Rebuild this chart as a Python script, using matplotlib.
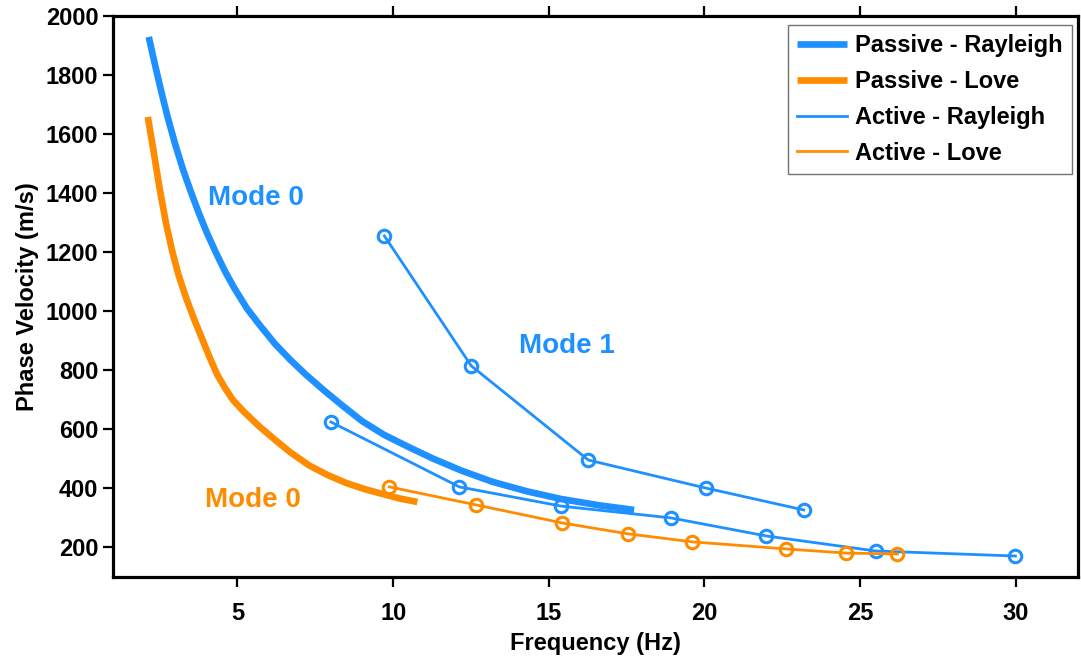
import matplotlib
matplotlib.use("Agg")
import matplotlib.pyplot as plt
from matplotlib.lines import Line2D

plt.rcParams["font.family"] = ["Liberation Sans", "DejaVu Sans"]
plt.rcParams["font.weight"] = "bold"

BLUE = "#1E90FF"
ORANGE = "#FF8C00"

# Passive (continuous) dispersion curves
passive_rayleigh_f = [2.15, 2.35, 2.55, 2.75, 3.0, 3.25, 3.5, 3.75, 4.0, 4.3,
                      4.6, 4.9, 5.3, 5.7, 6.2, 6.7, 7.2, 7.8, 8.4, 9.0,
                      9.7, 10.5, 11.3, 12.2, 13.2, 14.3, 15.4, 16.6, 17.74]
passive_rayleigh_v = [1929, 1835, 1745, 1660, 1565, 1480, 1405, 1335, 1270, 1200,
                      1135, 1078, 1010, 955, 890, 835, 785, 730, 678, 628,
                      582, 540, 500, 460, 422, 390, 364, 343, 327]

passive_love_f = [2.12, 2.3, 2.5, 2.7, 2.9, 3.1, 3.35, 3.6, 3.85, 4.1,
                  4.35, 4.6, 4.85, 5.2, 5.7, 6.2, 6.7, 7.3, 7.9, 8.5,
                  9.1, 9.7, 10.2, 10.78]
passive_love_v = [1658, 1545, 1415, 1300, 1205, 1125, 1045, 975, 910, 845,
                  785, 740, 700, 660, 610, 565, 522, 478, 445, 418,
                  397, 380, 366, 354]

# Active (picked) dispersion points
active_rayleigh_m0_f = [8.0, 12.13, 15.40, 18.93, 21.98, 25.50, 29.99]
active_rayleigh_m0_v = [625, 405, 340, 300, 239, 188, 171]

active_rayleigh_m1_f = [9.72, 12.51, 16.27, 20.05, 23.19]
active_rayleigh_m1_v = [1255, 815, 496, 401, 327]

active_love_f = [9.88, 12.67, 15.43, 17.55, 19.60, 22.62, 24.54, 26.20]
active_love_v = [405, 344, 283, 246, 219, 195, 181, 178]

x_ticks = [5, 10, 15, 20, 25, 30]
y_ticks = list(range(200, 2001, 200))

fig = plt.figure(figsize=(10.81, 6.60), dpi=100)
ax = fig.add_axes([0.1045, 0.1258, 0.8927, 0.8500])

thick = 4.8
thin = 2.0
mk = dict(marker="o", markersize=9, markerfacecolor="none", markeredgewidth=2.2)

ax.plot(passive_rayleigh_f, passive_rayleigh_v, color=BLUE, lw=thick,
        solid_capstyle="butt", solid_joinstyle="round")
ax.plot(passive_love_f, passive_love_v, color=ORANGE, lw=thick,
        solid_capstyle="butt", solid_joinstyle="round")

ax.plot(active_rayleigh_m0_f, active_rayleigh_m0_v, color=BLUE, lw=thin,
        markeredgecolor=BLUE, **mk)
ax.plot(active_rayleigh_m1_f, active_rayleigh_m1_v, color=BLUE, lw=thin,
        markeredgecolor=BLUE, **mk)
ax.plot(active_love_f, active_love_v, color=ORANGE, lw=thin,
        markeredgecolor=ORANGE, **mk)

ax.text(4.05, 1360, "Mode 0", color=BLUE, fontsize=20, fontweight="bold",
        ha="left", va="baseline")
ax.text(14.05, 859, "Mode 1", color=BLUE, fontsize=20, fontweight="bold",
        ha="left", va="baseline")
ax.text(3.95, 337, "Mode 0", color=ORANGE, fontsize=20, fontweight="bold",
        ha="left", va="baseline")

ax.set_xlim(1, 32)
ax.set_ylim(100, 2000)
ax.set_xticks(x_ticks)
ax.set_yticks(y_ticks)

for side in ["left", "bottom", "top", "right"]:
    ax.spines[side].set_linewidth(2.3)

ax.tick_params(axis="x", which="both", direction="out", length=7, width=1.6,
               top=True, labeltop=False, labelsize=17, pad=11)
ax.tick_params(axis="y", which="both", direction="out", length=7, width=1.6,
               right=False, labelsize=17, pad=3.5)

ax.set_xlabel("Frequency (Hz)", fontsize=17, fontweight="bold", labelpad=5)
ax.set_ylabel("Phase Velocity (m/s)", fontsize=17, fontweight="bold", labelpad=5)

handles = [
    Line2D([], [], color=BLUE, lw=thick, solid_capstyle="butt"),
    Line2D([], [], color=ORANGE, lw=thick, solid_capstyle="butt"),
    Line2D([], [], color=BLUE, lw=thin),
    Line2D([], [], color=ORANGE, lw=thin),
]
labels = ["Passive - Rayleigh", "Passive - Love", "Active - Rayleigh", "Active - Love"]
leg = ax.legend(handles, labels, loc="upper right", bbox_to_anchor=(0.9938, 0.984),
                borderaxespad=0, prop={"weight": "bold", "size": 17},
                fancybox=False, framealpha=1, edgecolor="0.45",
                handlelength=2.1, handletextpad=0.35, labelspacing=0.54,
                borderpad=0.4)
leg.get_frame().set_linewidth(1.0)

fig.savefig("out.png", dpi=100)
